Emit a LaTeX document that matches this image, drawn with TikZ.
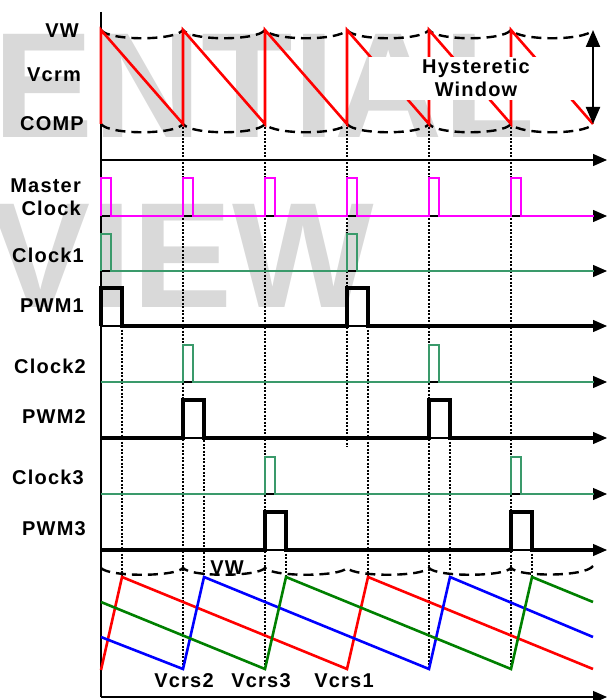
\documentclass[tikz,border=0pt]{standalone}
\usepackage{fontspec}
\setmainfont{Liberation Sans}
\newfontfamily\lblfont[LetterSpace=6]{Liberation Sans}
\usepackage{tikz}
\usetikzlibrary{arrows.meta}
\definecolor{sred}{HTML}{FF0000}
\definecolor{smag}{HTML}{FF00FF}
\definecolor{sclk}{HTML}{3A9A6B}
\definecolor{sgreen}{HTML}{008000}
\definecolor{sblue}{HTML}{0000FF}
\definecolor{smark}{HTML}{D9D9D9}

\tikzset{
  lbl/.style={font=\lblfont\bfseries\fontsize{20}{23}\selectfont,inner sep=0pt},
  sigaxis/.style={-{Triangle[length=14pt,width=12pt]},line width=1.2pt},
  guide/.style={line width=2.4pt,dash pattern=on 2pt off 1.5pt},
  winline/.style={line width=2.4pt,dash pattern=on 10pt off 6pt},
}

\begin{document}
\begin{tikzpicture}[x=1pt,y=-1pt]
      \useasboundingbox (0,0) rectangle (607,700);

      % Watermark
      \node[smark,anchor=base west,inner sep=0pt,font=\bfseries\fontsize{150}{150}\selectfont]
        (markA) at (-7,138) {ENTIAL};
      \node[smark,anchor=base east,inner sep=0pt,font=\bfseries\fontsize{150}{150}\selectfont]
        (markB) at (374,307) {VIEW};

      % Axes
      \draw[line width=1.5pt] (101,12) -- (101,697);
      \draw[sigaxis] (101,160) -- (607,160);
      \draw[sigaxis] (101,216) -- (607,216);
      \draw[sigaxis] (101,271) -- (607,271);
      \draw[sigaxis] (101,326) -- (607,326);
      \draw[sigaxis] (101,382) -- (607,382);
      \draw[sigaxis] (101,438) -- (607,438);
      \draw[sigaxis] (101,494) -- (607,494);
      \draw[sigaxis] (101,550) -- (607,550);
      \draw[sigaxis] (101,697) -- (607,697);

      % Timing guides
      \foreach \x in {183,265,429,511}
        \draw[guide] (\x,124) -- (\x,669);
      \draw[guide] (347,124) -- (347,447);
      \draw[guide] (122,326) -- (122,577);
      \draw[guide] (204,440) -- (204,577);
      \draw[guide] (286,550) -- (286,577);
      \draw[guide] (368,326) -- (368,577);
      \draw[guide] (450,438) -- (450,570);
      \draw[guide] (532,550) -- (532,577);

      % Hysteretic window bounds
      \draw[winline] (101,30) .. controls (109,41) and (175,41) .. (183,30)
        .. controls (191,41) and (257,41) .. (265,30)
        .. controls (273,41) and (339,41) .. (347,30)
        .. controls (355,41) and (421,41) .. (429,30)
        .. controls (437,41) and (503,41) .. (511,30)
        .. controls (519,41) and (585,41) .. (593,30);
      \draw[winline] (101,124) .. controls (109,135) and (175,135) .. (183,124)
        .. controls (191,135) and (257,135) .. (265,124)
        .. controls (273,135) and (339,135) .. (347,124)
        .. controls (355,135) and (421,135) .. (429,124)
        .. controls (437,135) and (503,135) .. (511,124)
        .. controls (519,135) and (585,135) .. (593,124);

      % Vcrm ramp
      \draw[sred,line width=2.6pt] (101,124) -- (101,30) -- (183,124) -- (183,30)
        -- (265,124) -- (265,30) -- (347,124) -- (347,30) -- (429,124)
        -- (429,30) -- (511,124) -- (511,30) -- (593,124);

      % Hysteretic window label
      \fill[white] (369,57) rectangle (598,100);
      \node[lbl,align=center] (hyst) at (476,78) {Hysteretic\\Window};
      \draw[{Triangle[length=17pt,width=14pt]}-{Triangle[length=17pt,width=14pt]},line width=2.2pt]
        (593,30) -- (593,124);

      % Master clock
      \draw[smag,line width=2.4pt] (101,216) -- (101,178) -- (111,178) -- (111,216)
        -- (183,216) -- (183,178) -- (193,178) -- (193,216)
        -- (265,216) -- (265,178) -- (275,178) -- (275,216)
        -- (347,216) -- (347,178) -- (357,178) -- (357,216)
        -- (429,216) -- (429,178) -- (439,178) -- (439,216)
        -- (511,216) -- (511,178) -- (521,178) -- (521,216) -- (594,216);

      % Phase clocks
      \draw[sclk,line width=2.1pt] (101,271) -- (101,234) -- (111,234) -- (111,271)
        -- (347,271) -- (347,234) -- (357,234) -- (357,271) -- (594,271);
      \draw[sclk,line width=2.1pt] (101,382) -- (183,382) -- (183,345) -- (193,345)
        -- (193,382) -- (429,382) -- (429,345) -- (439,345) -- (439,382) -- (594,382);
      \draw[sclk,line width=2.1pt] (101,494) -- (265,494) -- (265,457) -- (275,457)
        -- (275,494) -- (511,494) -- (511,457) -- (521,457) -- (521,494) -- (594,494);

      % PWM outputs
      \draw[line width=3.8pt] (101,326) -- (101,288) -- (122,288) -- (122,326)
        -- (347,326) -- (347,288) -- (368,288) -- (368,326) -- (594,326);
      \draw[line width=3.8pt] (101,438) -- (183,438) -- (183,400) -- (204,400)
        -- (204,438) -- (429,438) -- (429,400) -- (450,400) -- (450,438) -- (594,438);
      \draw[line width=3.8pt] (101,550) -- (265,550) -- (265,512) -- (286,512)
        -- (286,550) -- (511,550) -- (511,512) -- (532,512) -- (532,550) -- (594,550);

      % Current sense ramps
      \draw[winline] (101,568) .. controls (109,577) and (175,577) .. (183,568)
        .. controls (191,577) and (257,577) .. (265,568)
        .. controls (273,577) and (339,577) .. (347,568)
        .. controls (355,577) and (421,577) .. (429,568)
        .. controls (437,577) and (503,577) .. (511,568)
        .. controls (519,577) and (585,577) .. (593,566);
      \draw[sred,line width=2.6pt] (101,670) -- (122,577) -- (347,669) -- (368,577) -- (593,669);
      \draw[sblue,line width=2.6pt] (101,637) -- (183,669) -- (204,577) -- (429,669)
        -- (450,577) -- (593,637);
      \draw[sgreen,line width=2.6pt] (101,602) -- (265,669) -- (286,577) -- (511,669)
        -- (532,577) -- (593,602);

      % Labels
      \node[lbl,anchor=base east] (vw) at (79,38) {VW};
      \node[lbl,anchor=base east] (vcrm) at (81,82) {Vcrm};
      \node[lbl,anchor=base east] (comp) at (84,131) {COMP};
      \node[lbl,anchor=east,align=right] (mclk) at (81,197) {Master\\Clock};
      \node[lbl,anchor=base east] (clk1) at (84,262) {Clock1};
      \node[lbl,anchor=base east] (pwm1) at (84,312) {PWM1};
      \node[lbl,anchor=base east] (clk2) at (86,373) {Clock2};
      \node[lbl,anchor=base east] (pwm2) at (86,423) {PWM2};
      \node[lbl,anchor=base east] (clk3) at (84,484) {Clock3};
      \node[lbl,anchor=base east] (pwm3) at (86,535) {PWM3};
      \node[lbl,anchor=base] (vwb) at (227,574) {VW};
      \node[lbl,anchor=base] (vcrs2) at (184,687) {Vcrs2};
      \node[lbl,anchor=base] (vcrs3) at (261,687) {Vcrs3};
      \node[lbl,anchor=base] (vcrs1) at (344,687) {Vcrs1};
\end{tikzpicture}
\end{document}
